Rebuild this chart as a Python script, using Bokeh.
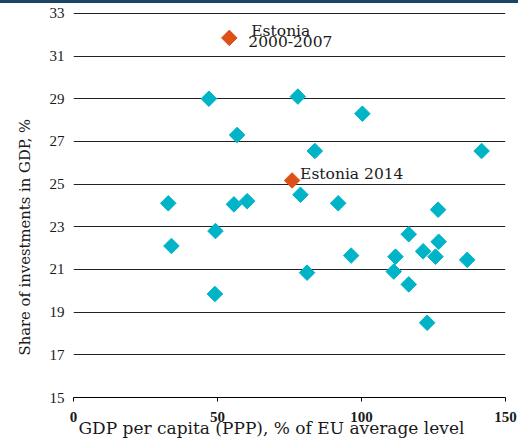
import numpy as np
from bokeh.plotting import figure
from bokeh.layouts import column
from bokeh.models import Range1d, FixedTicker, Title, Label, Div
from bokeh.embed import file_html
from bokeh.resources import INLINE

# EU countries: GDP per capita (PPP, % of EU average) vs share of investments in GDP (%)
gdp_pc = [47.0, 77.9, 56.8, 83.8, 78.8, 32.9, 55.7, 60.3, 100.3, 141.7, 91.9, 126.6, 34.0,
          49.3, 81.1, 49.1, 116.4, 96.4, 111.8, 121.4, 126.8, 125.7, 136.7, 111.2, 116.4, 122.8]
invest = [29.0, 29.1, 27.3, 26.55, 24.5, 24.1, 24.05, 24.2, 28.3, 26.55, 24.1, 23.8, 22.1,
          22.8, 20.85, 19.85, 22.65, 21.65, 21.6, 21.85, 22.3, 21.6, 21.45, 20.9, 20.3, 18.5]

# Estonia
est_labels = ["Estonia 2000-2007", "Estonia 2014"]
est_gdp = [54.1, 75.9]
est_inv = [31.85, 25.17]

x_ticks = [0, 50, 100, 150]
y_ticks = [15, 17, 19, 21, 23, 25, 27, 29, 31, 33]

CYAN = "#00b4c8"
ORANGE = "#dd5118"
NAVY = "#1b4565"
TEXT = "#1a1a1a"
SERIF = "Liberation Serif"
TITLE_FONT = "DejaVu Serif"

p = figure(width=518, height=435, x_range=Range1d(0, 150), y_range=Range1d(15, 33.04),
           output_backend="svg", toolbar_location=None, margin=0,
           min_border_left=73, min_border_right=13, min_border_top=9, min_border_bottom=41)
p.outline_line_color = None

p.xgrid.visible = False
p.ygrid.grid_line_color = "#222222"
p.ygrid.grid_line_width = 1

xa = p.xaxis[0]
xa.ticker = FixedTicker(ticks=x_ticks)
xa.axis_line_color = "black"
xa.axis_line_width = 1
xa.major_tick_line_color = "black"
xa.major_tick_out = 4
xa.major_tick_in = 0
xa.minor_tick_line_color = None
xa.major_label_standoff = 10
xa.major_label_text_font = SERIF
xa.major_label_text_font_style = "bold"
xa.major_label_text_font_size = "15px"
xa.major_label_text_color = TEXT

ya = p.yaxis[0]
ya.ticker = FixedTicker(ticks=y_ticks)
ya.axis_line_color = None
ya.major_tick_line_color = None
ya.minor_tick_line_color = None
ya.major_tick_out = 0
ya.major_tick_in = 0
ya.major_label_standoff = 9
ya.major_label_text_font = SERIF
ya.major_label_text_font_size = "15px"
ya.major_label_text_color = TEXT

p.add_layout(Title(text="GDP per capita (PPP), % of EU average level", align="left", offset=5,
                   text_font=TITLE_FONT, text_font_size="17px", text_font_style="normal",
                   text_color=TEXT, standoff=-17), "below")
p.add_layout(Title(text="Share of investments in GDP, %", align="left", offset=42,
                   text_font=TITLE_FONT, text_font_size="14.8px", text_font_style="normal",
                   text_color=TEXT, standoff=27), "left")

p.scatter(x=gdp_pc, y=invest, marker="square", angle=np.pi / 4, size=11,
          fill_color=CYAN, line_color=CYAN)
p.scatter(x=est_gdp, y=est_inv, marker="square", angle=np.pi / 4, size=11,
          fill_color=ORANGE, line_color=ORANGE)

lab_kw = dict(text_font=TITLE_FONT, text_font_size="15.5px", text_color=TEXT,
              text_baseline="alphabetic", text_align="left")
p.add_layout(Label(x=est_gdp[0], y=est_inv[0], text="Estonia", x_offset=22, y_offset=7, **lab_kw))
p.add_layout(Label(x=est_gdp[0], y=est_inv[0], text="2000-2007", x_offset=19, y_offset=-4, **lab_kw))
p.add_layout(Label(x=est_gdp[1], y=est_inv[1], text=est_labels[1], x_offset=8, y_offset=6, **lab_kw))

# thin navy band along the top edge of the page
band = Div(text="", width=518, height=3, margin=0,
           styles={"background-color": NAVY, "overflow": "hidden",
                   "line-height": "0", "font-size": "0", "padding": "0"})
page = column(band, p, spacing=0, margin=0)

open("out.html", "w").write(file_html(page, INLINE))
